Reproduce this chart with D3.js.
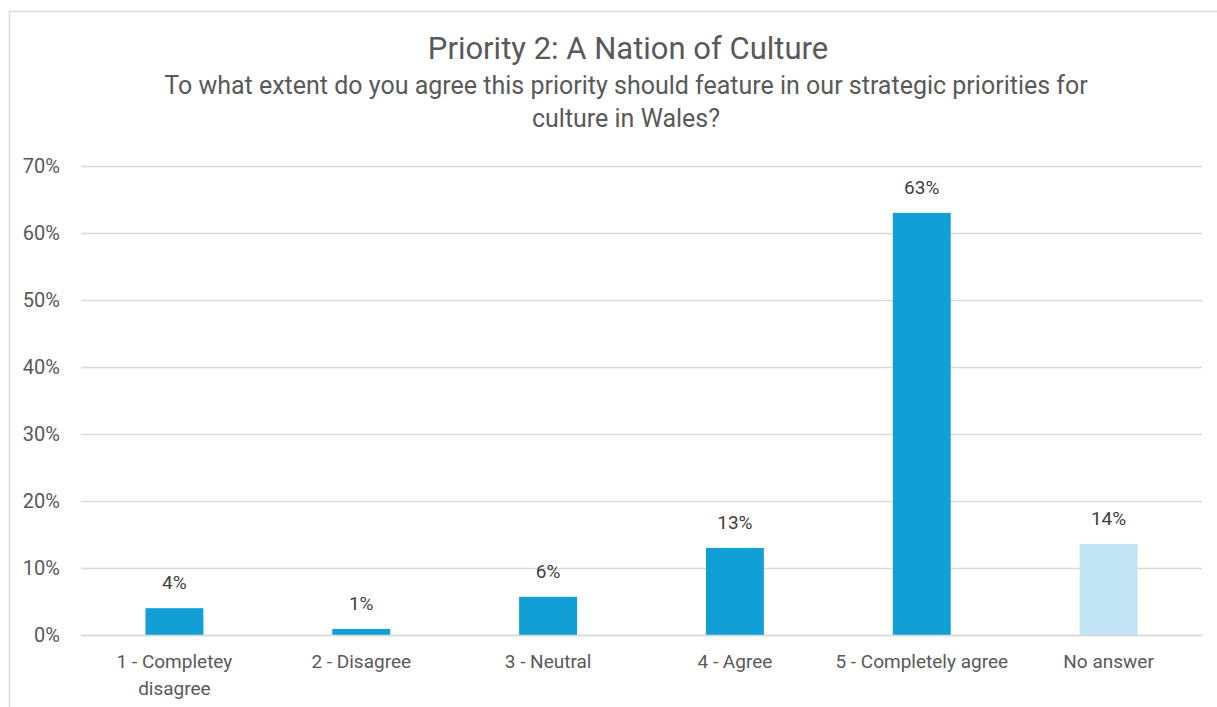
<!DOCTYPE html>
<html>
<head>
<meta charset="utf-8">
<script src="https://cdn.jsdelivr.net/npm/d3@7"></script>
<style>
  html, body { margin: 0; padding: 0; background: #fff; }
  svg { display: block; }
  svg text { font-family: Roboto, "Open Sans", sans-serif; }
</style>
</head>
<body>
<svg id="chart" width="1217" height="707"></svg>
<script>
// Survey responses: share of respondents per answer
const categories = [["1 - Completey", "disagree"], ["2 - Disagree"], ["3 - Neutral"], ["4 - Agree"], ["5 - Completely agree"], ["No answer"]];
const values = [0.040, 0.009, 0.057, 0.130, 0.630, 0.136];
const barColors = ["#119fd6", "#119fd6", "#119fd6", "#119fd6", "#119fd6", "#c1e4f4"];
const yTicks = [0, 0.1, 0.2, 0.3, 0.4, 0.5, 0.6, 0.7];
const title = "Priority 2: A Nation of Culture";
const subtitle = ["To what extent do you agree this priority should feature in our strategic priorities for", "culture in Wales?"];

const svg = d3.select("#chart");
const textColor = "#595959";
const fontFamily = "Roboto, 'Open Sans', sans-serif";

// outer chart frame
svg.append("rect")
  .attr("x", 9.5).attr("y", 11.5)
  .attr("width", 1240).attr("height", 720)
  .attr("fill", "#fff").attr("stroke", "#d9d9d9").attr("stroke-width", 1.5);

const plot = { left: 81, right: 1202, top: 166, bottom: 635 };

const x = d3.scaleBand()
  .domain(d3.range(categories.length))
  .range([plot.left, plot.right])
  .paddingInner(0.69).paddingOuter(0.345);

const y = d3.scaleLinear().domain([0, 0.7]).range([plot.bottom, plot.top]);

// gridlines
const yAxis = d3.axisLeft(y).tickValues(yTicks).tickFormat(d3.format(".0%"))
  .tickSize(-(plot.right - plot.left)).tickPadding(21);
const gy = svg.append("g").attr("transform", `translate(${plot.left},0)`).call(yAxis)
  .attr("font-family", fontFamily);
gy.select(".domain").remove();
gy.selectAll(".tick line").attr("stroke", "#d9d9d9").attr("stroke-width", 1.5);
gy.selectAll(".tick text")
  .attr("fill", textColor).attr("font-size", 20);

// bars
svg.append("g").selectAll("rect").data(values).join("rect")
  .attr("x", (d, i) => x(i))
  .attr("width", x.bandwidth())
  .attr("y", d => y(d))
  .attr("height", d => y(0) - y(d))
  .attr("fill", (d, i) => barColors[i]);

// value labels
svg.append("g").selectAll("text").data(values).join("text")
  .attr("x", (d, i) => x(i) + x.bandwidth() / 2)
  .attr("y", d => y(d) - 19)
  .attr("text-anchor", "middle")
  .attr("fill", "#404040").attr("font-size", 19)
  .text(d => d3.format(".0%")(d));

// category axis
const xAxis = d3.axisBottom(x).tickSize(0).tickFormat(() => "");
const gx = svg.append("g").attr("transform", `translate(0,${plot.bottom})`).call(xAxis)
  .attr("font-family", fontFamily);
gx.select(".domain").attr("stroke", "#d9d9d9").attr("stroke-width", 1.5);
gx.selectAll(".tick").each(function(d) {
  const t = d3.select(this).append("text")
    .attr("text-anchor", "middle").attr("fill", textColor).attr("font-size", 19)
    .attr("y", 33);
  categories[d].forEach((line, k) => {
    t.append("tspan").attr("x", 0).attr("dy", k === 0 ? 0 : 27).text(line);
  });
});

// titles
svg.append("text")
  .attr("x", 628).attr("y", 59).attr("text-anchor", "middle")
  .attr("fill", textColor).attr("font-size", 31)
  .text(title);
svg.append("g").selectAll("text").data(subtitle).join("text")
  .attr("x", 626).attr("y", (d, i) => 94 + i * 33).attr("text-anchor", "middle")
  .attr("fill", textColor).attr("font-size", 25)
  .text(d => d);
</script>
</body>
</html>
